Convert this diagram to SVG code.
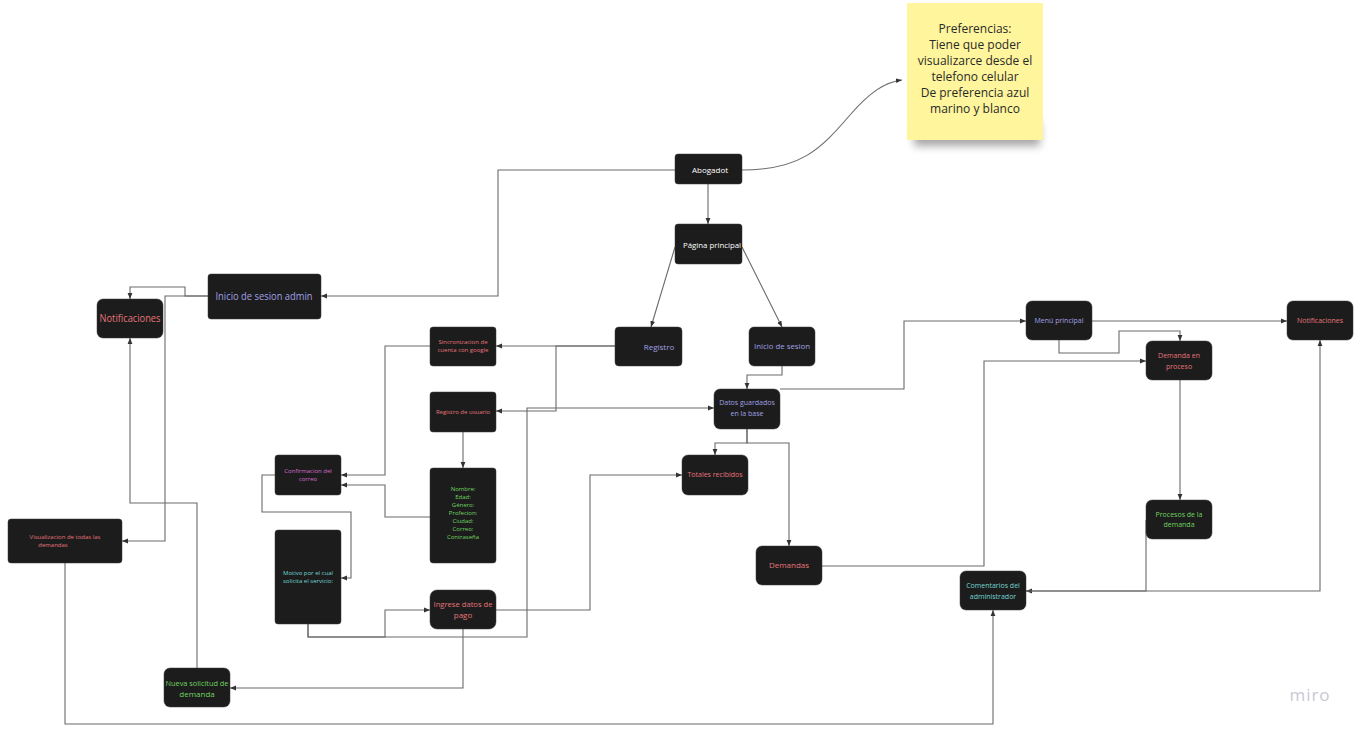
<svg xmlns="http://www.w3.org/2000/svg" width="1363" height="733" viewBox="0 0 1363 733">
<defs>
<marker id="ah" viewBox="0 0 10 10" refX="10" refY="5" markerWidth="6" markerHeight="6" orient="auto" markerUnits="userSpaceOnUse"><path d="M0,1 L10,5 L0,9 z" fill="#333"/></marker>
<filter id="sh" x="-20%" y="-20%" width="140%" height="160%"><feGaussianBlur stdDeviation="4"/></filter>
<style>
.n{fill:#1c1c1c;stroke:#3a3a3a;stroke-width:0.5}
.c path{fill:none;stroke:#6a6a6a;stroke-width:1.1;marker-end:url(#ah)}
text{font-family:"Open Sans","Noto Sans","Liberation Sans",sans-serif;text-anchor:middle}
.w{fill:#ffffff;font-size:8px}
.p{fill:#a0a0e4}
.r{fill:#e4747a}
.m{fill:#d46ccc}
.g{fill:#72d262}
.cy{fill:#72d6d2}
.s7{font-size:7px}
.s6{font-size:6px}
.s8{font-size:8px}
</style>
</defs>
<rect width="1363" height="733" fill="#ffffff"/>

<g id="connectors" class="c">
<path d="M675,170 H498 V296 H321"/>
<path d="M742,170 C800,170 820,150 850,115 C870,92 885,82 902,80"/>
<path d="M708,184 V224"/>
<path d="M675,247 L651,327"/>
<path d="M742,247 L782,327"/>
<path d="M615,346 H496"/>
<path d="M615,346 H556 V411 H496"/>
<path d="M430,346 H385 V475 H341"/>
<path d="M430,517 H385 V485 H341"/>
<path d="M463,432 V468"/>
<path d="M275,475 H262 V512 H351 V578 H341"/>
<path d="M308,624 V637 H385 V610 H430"/>
<path d="M308,624 V637 H527 V408 H714"/>
<path d="M496,610 H590 V475 H682"/>
<path d="M463,629 V688 H230"/>
<path d="M197,668 V503 H130 V338"/>
<path d="M208,296 H185 V287 H130 V299"/>
<path d="M208,296 H165 V541 H122"/>
<path d="M782,366 V375 H747 V389"/>
<path d="M747,429 V443 H715 V455"/>
<path d="M747,429 V443 H789 V546"/>
<path d="M780,389 H904 V321 H1026"/>
<path d="M822,566 H984 V361 H1146"/>
<path d="M1092,321 H1287"/>
<path d="M1059,340 V353 H1119 V331 H1180 V341"/>
<path d="M1180,380 V500"/>
<path d="M1146,520 V591 H1026"/>
<path d="M1026,591 H1320 V340"/>
<path d="M65,563 V724 H993 V610"/>
</g>

<g id="sticky">
<rect x="914" y="122" width="126" height="24" fill="#000" opacity="0.35" filter="url(#sh)"/>
<rect x="907" y="3" width="136" height="137" fill="#fef59c"/>
<text x="975" y="33" font-size="12" fill="#2a2a2a">Preferencias:</text>
<text x="975" y="49" font-size="12" fill="#2a2a2a">Tiene que poder</text>
<text x="975" y="65" font-size="12" fill="#2a2a2a">visualizarce desde el</text>
<text x="975" y="81" font-size="12" fill="#2a2a2a">telefono celular</text>
<text x="975" y="97" font-size="12" fill="#2a2a2a">De preferencia azul</text>
<text x="975" y="113" font-size="12" fill="#2a2a2a">marino y blanco</text>
</g>

<g id="abogadot"><rect class="n" x="675" y="154" width="67" height="30" rx="3"/><text class="w" x="710" y="173">Abogadot</text></g>
<g id="pagina-principal"><rect class="n" x="675" y="224" width="67" height="40" rx="3"/><text class="w" x="712" y="248" textLength="58" lengthAdjust="spacingAndGlyphs">Página principal</text></g>
<g id="registro"><rect class="n" x="615" y="327" width="67" height="39" rx="4"/><text class="p s8" x="659" y="350">Registro</text></g>
<g id="inicio-sesion"><rect class="n" x="749" y="327" width="66" height="39" rx="5"/><text class="p s8" x="782" y="349" textLength="56" lengthAdjust="spacingAndGlyphs">Inicio de sesion</text></g>
<g id="inicio-sesion-admin"><rect class="n" x="208" y="274" width="113" height="45" rx="3"/><text class="p" font-size="11" x="264" y="300" textLength="97" lengthAdjust="spacingAndGlyphs">Inicio de sesion admin</text></g>
<g id="notificaciones-izq"><rect class="n" x="97" y="299" width="66" height="39" rx="6"/><text class="r" font-size="10.5" x="130" y="322" textLength="61" lengthAdjust="spacingAndGlyphs">Notificaciones</text></g>
<g id="sincronizacion"><rect class="n" x="430" y="327" width="66" height="39" rx="3"/><text class="r s6" x="463" y="344">Sincronizacion de</text><text class="r s6" x="463" y="352">cuenta con google</text></g>
<g id="registro-usuario"><rect class="n" x="430" y="392" width="66" height="40" rx="3"/><text class="r s6" x="463" y="414">Registro de usuario</text></g>
<g id="datos-guardados"><rect class="n" x="714" y="389" width="66" height="40" rx="6"/><text class="p s7" x="747" y="405">Datos guardados</text><text class="p s7" x="747" y="416">en la base</text></g>
<g id="totales"><rect class="n" x="682" y="455" width="66" height="40" rx="6"/><text class="r s7" x="715" y="477">Totales recibidos</text></g>
<g id="confirmacion"><rect class="n" x="275" y="455" width="66" height="40" rx="3"/><text class="m s6" x="308" y="473">Confirmacion del</text><text class="m s6" x="308" y="481">correo</text></g>
<g id="datos-usuario"><rect class="n" x="430" y="468" width="66" height="95" rx="3"/>
<text class="g s6" x="463" y="491">Nombre:</text><text class="g s6" x="463" y="499">Edad:</text><text class="g s6" x="463" y="507">Género:</text><text class="g s6" x="463" y="515">Profecion:</text><text class="g s6" x="463" y="523">Ciudad:</text><text class="g s6" x="463" y="531">Correo:</text><text class="g s6" x="463" y="539">Contraseña</text></g>
<g id="visualizacion"><rect class="n" x="8" y="519" width="114" height="44" rx="3"/><text class="r s6" x="65" y="539">Visualizacion de todas las</text><text class="r s6" x="53" y="547">demandas</text></g>
<g id="motivo"><rect class="n" x="275" y="530" width="66" height="94" rx="3"/><text class="cy s6" x="308" y="575">Motivo por el cual</text><text class="cy s6" x="308" y="583">solicita el servicio:</text></g>
<g id="ingrese-pago"><rect class="n" x="430" y="590" width="66" height="39" rx="7"/><text class="r s8" x="463" y="607" textLength="59" lengthAdjust="spacingAndGlyphs">Ingrese  datos de</text><text class="r s8" x="463" y="618">pago</text></g>
<g id="nueva-solicitud"><rect class="n" x="164" y="668" width="66" height="39" rx="6"/><text class="g s8" x="197" y="686" textLength="63" lengthAdjust="spacingAndGlyphs">Nueva solicitud de</text><text class="g s8" x="197" y="697">demanda</text></g>
<g id="demandas"><rect class="n" x="756" y="546" width="66" height="39" rx="6"/><text class="r s8" x="789" y="568">Demandas</text></g>
<g id="menu-principal"><rect class="n" x="1026" y="301" width="66" height="39" rx="6"/><text class="p s7" x="1059" y="323">Menú principal</text></g>
<g id="demanda-proceso"><rect class="n" x="1146" y="341" width="66" height="39" rx="6"/><text class="r s7" x="1179" y="358">Demanda en</text><text class="r s7" x="1179" y="369">proceso</text></g>
<g id="notificaciones-der"><rect class="n" x="1287" y="301" width="66" height="39" rx="6"/><text class="r s7" x="1320" y="323">Notificaciones</text></g>
<g id="procesos-demanda"><rect class="n" x="1146" y="500" width="66" height="39" rx="6"/><text class="g s7" x="1179" y="517">Procesos de la</text><text class="g s7" x="1179" y="527">demanda</text></g>
<g id="comentarios"><rect class="n" x="960" y="571" width="66" height="39" rx="6"/><text class="cy s7" x="993" y="588">Comentarios del</text><text class="cy s7" x="993" y="599">administrador</text></g>

<text x="1310" y="701" font-size="17" fill="#c8c8d4" font-family="Lato, 'Open Sans', sans-serif" letter-spacing="1">miro</text>
</svg>
